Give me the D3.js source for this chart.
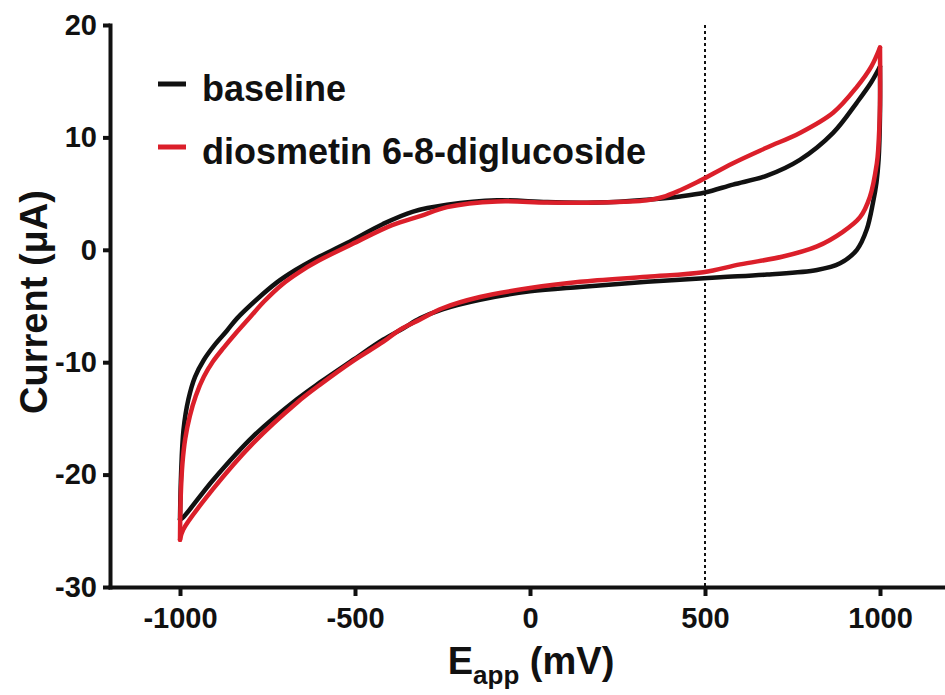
<!DOCTYPE html>
<html>
<head>
<meta charset="utf-8">
<script src="https://cdn.jsdelivr.net/npm/d3@7"></script>
<style>
  body { margin: 0; background: #fff; }
  svg { display: block; font-family: "Liberation Sans", Arial, sans-serif; font-weight: bold; }
</style>
</head>
<body>
<div id="chart"></div>
<script>
// potential (mV), current (uA)
var seriesNames = ["baseline", "diosmetin 6-8-diglucoside"];
var seriesColors = ["#111111", "#db1f2a"];

var baselineForward = [
    [-1000,-24],[-997,-20],[-990,-16],[-976,-13.3],[-957,-11.3],[-932,-9.8],[-902,-8.5],
    [-866,-7.2],[-837,-6.1],[-780,-4.4],[-723,-2.9],[-670,-1.8],[-620,-0.9],
    [-523,0.6],[-420,2.3],[-334,3.4],[-237,4.0],[-94,4.4],[49,4.25],[191,4.2],[334,4.45],
    [429,4.75],[500,5.1],[580,5.8],[677,6.6],[771,8.0],[866,10.4],[934,13.1],[975,14.9],[1000,16.3]
];
var baselineReverse = [
    [1000,16.3],[1000,12],[996,8],[990,6],[980,4.2],[962,1.8],[934,0],[886,-1.2],[820,-1.8],
    [677,-2.2],[543,-2.45],[334,-2.85],[143,-3.3],[0,-3.7],[-143,-4.45],[-250,-5.3],[-314,-6.1],
    [-363,-7.0],[-420,-8.0],[-506,-9.8],[-600,-11.8],[-666,-13.3],[-791,-16.6],[-906,-20.5],
    [-991,-23.8],[-1000,-24]
];
var diosmetinForward = [
    [-1000,-25.8],[-998,-22],[-993,-19],[-985,-16.8],[-972,-14.8],[-955,-13.0],[-932,-11.3],
    [-905,-9.9],[-875,-8.7],[-840,-7.4],[-800,-6.0],[-760,-4.6],[-709,-3.1],[-660,-2.0],
    [-606,-1.0],[-509,0.5],[-394,2.2],[-314,3.0],[-237,3.8],[-94,4.3],[49,4.2],[191,4.2],[334,4.4],
    [380,4.7],[429,5.3],[477,6.0],[580,7.7],[677,9.1],[771,10.4],[866,12.2],[934,14.5],
    [975,16.3],[1000,18.0]
];
var diosmetinReverse = [
    [1000,18.0],[1000,13],[995,9],[991,7.7],[971,4.7],[943,2.9],[894,1.6],[820,0.3],
    [723,-0.6],[600,-1.3],[495,-2.0],[334,-2.4],[143,-2.85],[0,-3.4],[-143,-4.2],[-250,-5.2],
    [-314,-6.2],[-371,-7.1],[-420,-8.2],[-506,-9.9],[-600,-12.0],[-666,-13.6],[-791,-17.2],
    [-906,-21.3],[-991,-24.9],[-1000,-25.8]
];

var xTicks = [-1000, -500, 0, 500, 1000];
var yTicks = [-30, -20, -10, 0, 10, 20];
var markerPotential = 500;

var width = 945, height = 695;

var x = d3.scaleLinear().domain([-1200, 1200]).range([110, 950]);
var y = d3.scaleLinear().domain([-30, 20]).range([587, 25]);

var svg = d3.select("#chart").append("svg")
    .attr("width", width)
    .attr("height", height);

// dotted marker line at 500 mV
svg.append("line")
    .attr("x1", x(markerPotential)).attr("x2", x(markerPotential))
    .attr("y1", y(20)).attr("y2", y(-30))
    .attr("stroke", "#111")
    .attr("stroke-width", 2)
    .attr("stroke-dasharray", "3,3");

var line = d3.line()
    .x(function(d) { return x(d[0]); })
    .y(function(d) { return y(d[1]); })
    .curve(d3.curveCatmullRom.alpha(0.5));

var loops = [
    [baselineForward, baselineReverse],
    [diosmetinForward, diosmetinReverse]
];

loops.forEach(function(branches, i) {
    branches.forEach(function(pts) {
        svg.append("path")
            .attr("d", line(pts))
            .attr("fill", "none")
            .attr("stroke", seriesColors[i])
            .attr("stroke-width", 4.5)
            .attr("stroke-linejoin", "round")
            .attr("stroke-linecap", "round");
    });
});

// axes
var fmt = function(d) { return String(d); };
var xAxis = svg.append("g")
    .attr("transform", "translate(0," + y(-30) + ")")
    .call(d3.axisBottom(x).tickValues(xTicks).tickFormat(fmt).tickSize(9).tickSizeOuter(0).tickPadding(11));
var yAxis = svg.append("g")
    .attr("transform", "translate(" + x(-1200) + ",0)")
    .call(d3.axisLeft(y).tickValues(yTicks).tickFormat(fmt).tickSize(7).tickSizeOuter(0).tickPadding(6));

[xAxis, yAxis].forEach(function(g) {
    g.select(".domain").attr("stroke", "#111").attr("stroke-width", 4).attr("stroke-linecap", "square");
    g.selectAll(".tick line").attr("stroke", "#111").attr("stroke-width", 4);
    g.selectAll(".tick text")
        .attr("fill", "#111")
        .style("font-size", "29px")
        .style("font-weight", "bold")
        .style("font-family", "'Liberation Sans', Arial, sans-serif");
});

// axis titles
svg.append("text")
    .attr("transform", "translate(47,302) rotate(-90)")
    .attr("text-anchor", "middle")
    .attr("fill", "#111")
    .style("font-size", "38px")
    .text("Current (\u03bcA)");

var xTitle = svg.append("text")
    .attr("x", 531).attr("y", 674)
    .attr("text-anchor", "middle")
    .attr("fill", "#111")
    .style("font-size", "38px");
xTitle.append("tspan").text("E");
xTitle.append("tspan").attr("dy", 10).style("font-size", "26px").text("app");
xTitle.append("tspan").attr("dy", -10).text(" (mV)");

// legend
var legend = svg.append("g");
seriesNames.forEach(function(name, i) {
    var ly = 84 + i * 63;
    legend.append("line")
        .attr("x1", 158).attr("x2", 186)
        .attr("y1", ly).attr("y2", ly)
        .attr("stroke", seriesColors[i])
        .attr("stroke-width", 5);
    legend.append("text")
        .attr("x", 202).attr("y", ly + 17)
        .attr("fill", "#111")
        .style("font-size", "36px")
        .text(name);
});
</script>
</body>
</html>
